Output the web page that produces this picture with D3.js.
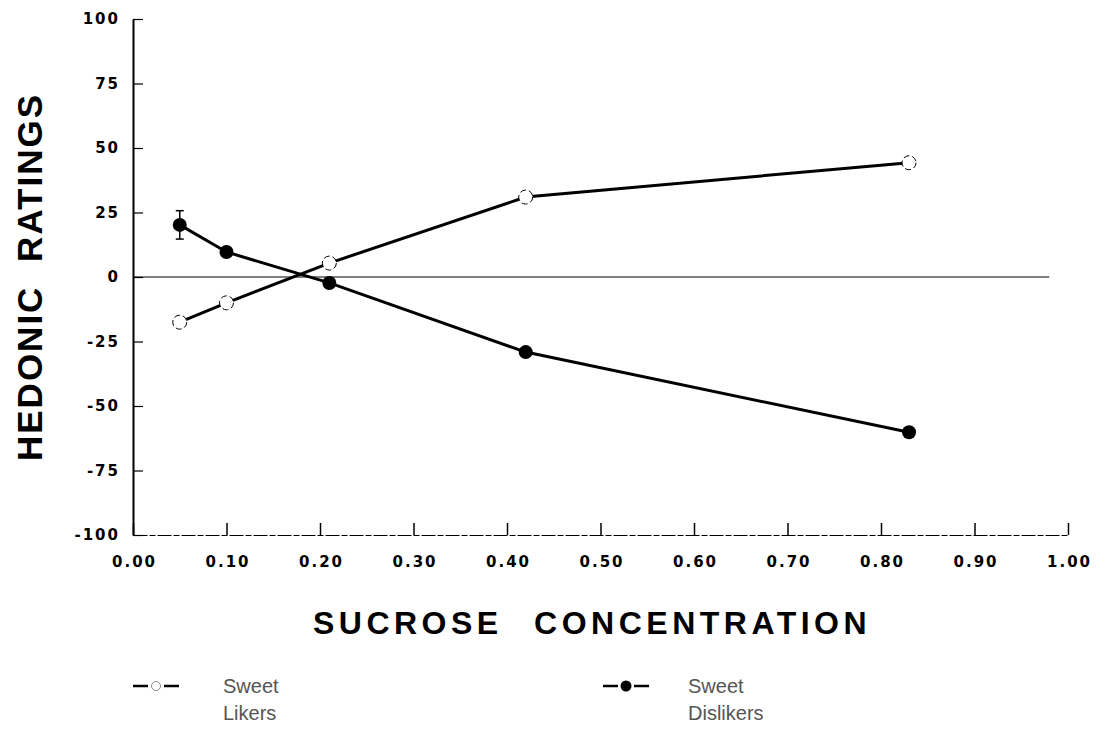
<!DOCTYPE html>
<html>
<head>
<meta charset="utf-8">
<script src="https://cdn.jsdelivr.net/npm/d3@7"></script>
<style>
  body { margin: 0; background: #fff; }
  svg { display: block; }
  .tick text { font-family: "DejaVu Sans", sans-serif; font-weight: bold; font-size: 15px; letter-spacing: 2px; fill: #000; }
</style>
</head>
<body>
<svg id="chart" width="1103" height="740"></svg>
<script>
// sucrose concentrations (M)
var concentrations = [0.05, 0.10, 0.21, 0.42, 0.83];
// hedonic ratings
var likers = [-17.5, -10, 5.4, 31, 44.3];
var dislikers = [20.2, 9.7, -2.3, -29.1, -60.2];
var dislikerErr = [5.5, 0, 0, 0, 0];

var xTicks = [0, 0.1, 0.2, 0.3, 0.4, 0.5, 0.6, 0.7, 0.8, 0.9, 1.0];
var yTicks = [-100, -75, -50, -25, 0, 25, 50, 75, 100];

var svg = d3.select("#chart");

var x = d3.scaleLinear().domain([0, 1]).range([133, 1068]);
var y = d3.scaleLinear().domain([-100, 100]).range([535, 19]);

// y axis, ticks pointing in
var yAxis = svg.append("g")
    .attr("transform", "translate(" + x(0) + ",0)")
    .call(d3.axisLeft(y).tickValues(yTicks).tickSizeInner(-10).tickSizeOuter(0).tickPadding(13)
        .tickFormat(function (d) { return d < 0 ? "-" + Math.abs(d) : d; }));
yAxis.select(".domain").attr("stroke-width", 2);
yAxis.selectAll(".tick line").attr("stroke-width", 1.2);

// x axis
var xAxis = svg.append("g")
    .attr("transform", "translate(0," + y(-100) + ")")
    .call(d3.axisBottom(x).tickValues(xTicks).tickSizeInner(-12).tickSizeOuter(0).tickPadding(21)
        .tickFormat(d3.format(".2f")));
xAxis.select(".domain").attr("stroke-width", 1.2).attr("stroke-dasharray", "14,2,6,2");
xAxis.selectAll(".tick line").attr("stroke-width", 1.5);
xAxis.selectAll(".tick text").attr("dx", 1);

// zero line
svg.append("line")
    .attr("x1", x(0)).attr("x2", x(0.98))
    .attr("y1", y(0)).attr("y2", y(0))
    .attr("stroke", "#000").attr("stroke-width", 1.2);

var line = d3.line()
    .x(function (d) { return x(d[0]); })
    .y(function (d) { return y(d[1]); });

var likerPts = concentrations.map(function (c, i) { return [c, likers[i]]; });
var dislikerPts = concentrations.map(function (c, i) { return [c, dislikers[i], dislikerErr[i]]; });

svg.append("path").datum(dislikerPts)
    .attr("d", line).attr("fill", "none").attr("stroke", "#000").attr("stroke-width", 3);
svg.append("path").datum(likerPts)
    .attr("d", line).attr("fill", "none").attr("stroke", "#000").attr("stroke-width", 3);

// error bars
var eb = svg.append("g").selectAll("g")
    .data(dislikerPts.filter(function (d) { return d[2] > 0; }))
    .enter().append("g").attr("stroke", "#000").attr("stroke-width", 1.5);
eb.append("line")
    .attr("x1", function (d) { return x(d[0]); }).attr("x2", function (d) { return x(d[0]); })
    .attr("y1", function (d) { return y(d[1] + d[2]); }).attr("y2", function (d) { return y(d[1] - d[2]); });
eb.append("line")
    .attr("x1", function (d) { return x(d[0]) - 4; }).attr("x2", function (d) { return x(d[0]) + 4; })
    .attr("y1", function (d) { return y(d[1] + d[2]); }).attr("y2", function (d) { return y(d[1] + d[2]); });
eb.append("line")
    .attr("x1", function (d) { return x(d[0]) - 4; }).attr("x2", function (d) { return x(d[0]) + 4; })
    .attr("y1", function (d) { return y(d[1] - d[2]); }).attr("y2", function (d) { return y(d[1] - d[2]); });

svg.append("g").selectAll("circle")
    .data(dislikerPts).enter().append("circle")
    .attr("cx", function (d) { return x(d[0]); })
    .attr("cy", function (d) { return y(d[1]); })
    .attr("r", 7).attr("fill", "#000");

svg.append("g").selectAll("circle")
    .data(likerPts).enter().append("circle")
    .attr("cx", function (d) { return x(d[0]); })
    .attr("cy", function (d) { return y(d[1]); })
    .attr("r", 7).attr("fill", "#fff").attr("stroke", "#000").attr("stroke-width", 1)
    .attr("stroke-dasharray", "6,3");

// axis titles
svg.append("text")
    .attr("transform", "translate(42," + y(0) + ") rotate(-90)")
    .attr("text-anchor", "middle")
    .style("font-family", "'Liberation Sans', Arial, sans-serif")
    .style("font-weight", "bold").style("font-size", "35px")
    .style("letter-spacing", "2px").style("word-spacing", "12px")
    .text("HEDONIC RATINGS");

svg.append("text")
    .attr("x", 592).attr("y", 634)
    .attr("text-anchor", "middle")
    .style("font-family", "'Liberation Sans', Arial, sans-serif")
    .style("font-weight", "bold").style("font-size", "32px")
    .style("letter-spacing", "4.5px").style("word-spacing", "18px")
    .text("SUCROSE CONCENTRATION");

// legend
var legendItems = [
    { x0: 133, filled: false, lines: ["Sweet", "Likers"] },
    { x0: 603, filled: true, lines: ["Sweet", "Dislikers"] }
];
var lg = svg.append("g").selectAll("g").data(legendItems).enter().append("g")
    .attr("transform", function (d) { return "translate(" + d.x0 + ",686)"; });
lg.append("line").attr("x1", 0).attr("x2", 15).attr("y1", 0).attr("y2", 0)
    .attr("stroke", "#000").attr("stroke-width", 2.5);
lg.append("line").attr("x1", 31).attr("x2", 46).attr("y1", 0).attr("y2", 0)
    .attr("stroke", "#000").attr("stroke-width", 2.5);
lg.append("circle").attr("cx", 23).attr("cy", 0)
    .attr("r", function (d) { return d.filled ? 5.5 : 4.5; })
    .attr("fill", function (d) { return d.filled ? "#000" : "#fff"; })
    .attr("stroke", function (d) { return d.filled ? "none" : "#888"; });
lg.append("text")
    .attr("x", function (d) { return d.filled ? 85 : 90; }).attr("y", 7)
    .style("font-family", "'Liberation Sans', Arial, sans-serif")
    .style("font-size", "20px").style("fill", "#555")
    .selectAll("tspan").data(function (d) { return d.lines; }).enter().append("tspan")
    .attr("x", function () { return d3.select(this.parentNode).attr("x"); })
    .attr("dy", function (d, i) { return i ? 27 : 0; })
    .text(function (d) { return d; });
</script>
</body>
</html>
